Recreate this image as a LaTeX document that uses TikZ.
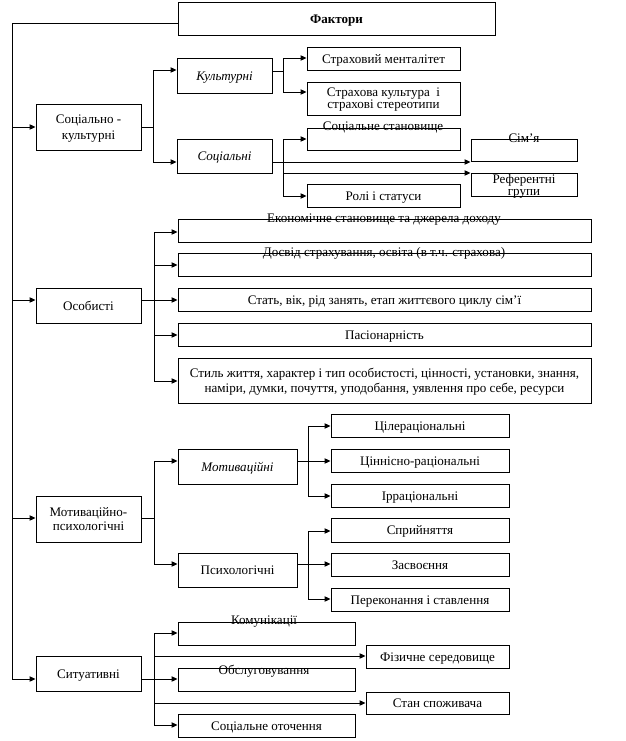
\documentclass[tikz,border=0pt]{standalone}
\usepackage{fontspec}
\setmainfont{Liberation Serif}
\usetikzlibrary{arrows.meta}
\newcommand\fs{\fontsize{9.8}{11}\selectfont}
\newcommand\fstight{\fontsize{9.8}{9}\selectfont}
\newcommand\bx[7][]{\node[box,#1,minimum width={(#4-#2)*0.75pt},minimum height={(#5-#3)*0.75pt}] (#6) at ({(#2+#4)/2},{(#3+#5)/2}) {#7};}
\begin{document}
\begin{tikzpicture}[x=0.75pt,y=-0.75pt,line width=0.7pt,
  box/.style={draw,inner sep=0pt,align=center,font=\fs,text depth=0pt,text height=7pt},
  ml/.style={text height=},
  lbl/.style={inner sep=0pt,font=\fs,text depth=0pt,text height=6.6pt},
  arr/.style={-{Triangle[length=4.5pt,width=4pt]}}]
\useasboundingbox (0,0) rectangle (625,741);
% boxes
\bx[font=\fs\bfseries]{178}{2}{495}{35}{fak}{Фактори}
\bx[ml,font=\fontsize{9.8}{12}\selectfont]{36}{104}{141}{150}{sk}{Соціально -\\культурні}
\bx[font=\fs\itshape]{177}{58}{272}{93}{kult}{Культурні}
\bx[font=\fs\itshape]{177}{139}{272}{173}{soc}{Соціальні}
\bx{307}{47}{460}{70}{strm}{Страховий менталітет}
\bx[ml,font=\fstight]{307}{82}{460}{115}{strk}{Страхова культура\ \ і\\страхові стереотипи}
\bx{307}{128}{460}{150}{socst}{}
\bx{307}{184}{460}{207}{rol}{Ролі і статуси}
\bx{471}{139}{577}{161}{sim}{}
\bx[ml,font=\fstight]{471}{173}{577}{196}{ref}{Референтні\\групи}
\bx{36}{288}{141}{323}{os}{Особисті}
\bx{178}{219}{591}{242}{ek}{}
\bx{178}{253}{591}{276}{dos}{}
\bx{178}{288}{591}{311}{stat}{Стать, вік, рід занять, етап життєвого циклу сім'ї}
\bx{178}{323}{591}{346}{pas}{Пасіонарність}
\bx[ml,font=\fontsize{9.8}{11.25}\selectfont]{178}{358}{591}{403}{styl}{Стиль життя, характер і тип особистості, цінності, установки, знання,\\наміри, думки, почуття, уподобання, уявлення про себе, ресурси}
\bx[ml,font=\fontsize{9.8}{10.5}\selectfont]{36}{496}{141}{542}{mp}{Мотиваційно-\\психологічні}
\bx[font=\fs\itshape]{178}{449}{297}{484}{mot}{Мотиваційні}
\bx{178}{553}{297}{587}{psy}{Психологічні}
\bx{331}{414}{509}{437}{cil}{Цілераціональні}
\bx{331}{449}{509}{472}{cin}{Ціннісно-раціональні}
\bx{331}{484}{509}{507}{irr}{Ірраціональні}
\bx{331}{518}{509}{542}{spr}{Сприйняття}
\bx{331}{553}{509}{576}{zas}{Засвоєння}
\bx{331}{588}{509}{611}{per}{Переконання і ставлення}
\bx{36}{656}{141}{691}{sit}{Ситуативні}
\bx{178}{622}{355}{645}{kom}{}
\bx{366}{645}{509}{668}{fiz}{Фізичне середовище}
\bx{178}{668}{355}{691}{obs}{}
\bx{366}{692}{509}{714}{stan}{Стан споживача}
\bx{178}{714}{355}{737}{soco}{Соціальне оточення}
% texts on box edges
\node[lbl] (socstT) at (383,126) {Соціальне становище};
\node[lbl] (simT) at (524,138) {Сім'я};
\node[lbl] (ekT) at (384,218) {Економічне становище та джерела доходу};
\node[lbl] (dosT) at (384,252) {Досвід страхування, освіта (в т.ч. страхова)};
\node[lbl] (komT) at (264,620) {Комунікації};
\node[lbl] (obsT) at (264,670) {Обслуговування};
% trunk
\coordinate (tT) at (12,23);
\coordinate (tB) at (12,679);
\draw (fak.west |- tT) -- (tT) -- (tB);
\draw[arr] (tT |- 0,127) -- (sk.west |- 0,127);
\draw[arr] (tT |- 0,300) -- (os.west |- 0,300);
\draw[arr] (tT |- 0,518) -- (mp.west |- 0,518);
\draw[arr] (tB) -- (sit.west |- tB);
% socio-cultural
\coordinate (b1) at (153,127);
\draw (sk.east |- b1) -- (b1);
\draw[arr] (b1) |- (kult.west |- 0,70);
\draw[arr] (b1) |- (soc.west |- 0,162);
\coordinate (b2) at (283,71);
\draw (kult.east |- b2) -- (b2);
\draw[arr] (b2) |- (strm.west |- 0,58);
\draw[arr] (b2) |- (strk.west |- 0,92);
\coordinate (b3) at (283,162);
\draw[arr] (soc.east |- b3) -- (sim.west |- b3);
\draw[arr] (b3) |- (socst.west |- 0,139);
\draw[arr] (b3) |- (rol.west |- 0,196);
\draw[arr] (b3 |- 0,173) -- (ref.west |- 0,173);
% personal
\coordinate (b4) at (154,300);
\draw (os.east |- b4) -- (b4);
\draw[arr] (b4) |- (ek.west |- 0,232);
\draw[arr] (b4) |- (dos.west |- 0,265);
\draw[arr] (b4) -- (stat.west |- b4);
\draw[arr] (b4) |- (pas.west |- 0,335);
\draw[arr] (b4) |- (styl.west |- 0,381);
% motivational-psychological
\coordinate (b5) at (154,518);
\draw (mp.east |- b5) -- (b5);
\draw[arr] (b5) |- (mot.west |- 0,461);
\draw[arr] (b5) |- (psy.west |- 0,564);
\coordinate (b6) at (308,461);
\draw (mot.east |- b6) -- (b6);
\draw[arr] (b6) |- (cil.west |- 0,426);
\draw[arr] (b6) -- (cin.west |- b6);
\draw[arr] (b6) |- (irr.west |- 0,496);
\coordinate (b7) at (308,564);
\draw (psy.east |- b7) -- (b7);
\draw[arr] (b7) |- (spr.west |- 0,531);
\draw[arr] (b7) -- (zas.west |- b7);
\draw[arr] (b7) |- (per.west |- 0,599);
% situational
\coordinate (b8) at (154,679);
\draw (sit.east |- b8) -- (b8);
\draw[arr] (b8) |- (kom.west |- 0,633);
\draw[arr] (b8) |- (fiz.west |- 0,656);
\draw[arr] (b8) -- (obs.west |- b8);
\draw[arr] (b8) |- (stan.west |- 0,703);
\draw[arr] (b8) |- (soco.west |- 0,725);
\end{tikzpicture}
\end{document}
